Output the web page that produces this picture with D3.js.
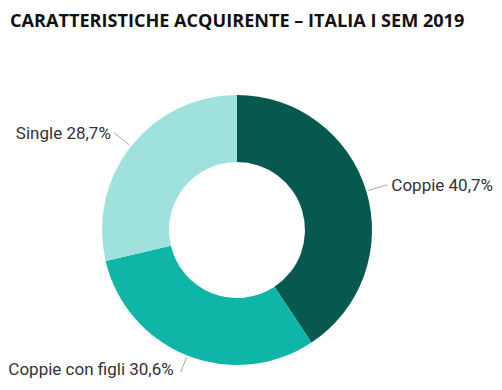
<!DOCTYPE html>
<html><head><meta charset="utf-8">
<script src="https://cdn.jsdelivr.net/npm/d3@7"></script>
<style>body{margin:0;background:#fff}svg{display:block}</style>
</head><body>
<svg id="c" width="502" height="390"></svg>
<script>
const title = "CARATTERISTICHE ACQUIRENTE – ITALIA I SEM 2019";
const categories = ["Coppie", "Coppie con figli", "Single"];
const values = [40.7, 30.6, 28.7];
const labels = ["Coppie 40,7%", "Coppie con figli 30,6%", "Single 28,7%"];
const colors = ["#07594f", "#0fb5a7", "#9fe1dc"];

const svg = d3.select("#c");
svg.append("text").attr("x", 10).attr("y", 27)
  .attr("font-family", "Open Sans").attr("font-weight", 700).attr("font-size", 18.1)
  .attr("fill", "#111").text(title);

const cx = 237, cy = 230, R = 135, r = 68;
const g = svg.append("g").attr("transform", `translate(${cx},${cy})`);
const data = categories.map((c, i) => ({c, v: values[i], label: labels[i], color: colors[i]}));
const pie = d3.pie().value(d => d.v).sort(null);
const arc = d3.arc().innerRadius(r).outerRadius(R);
const arcs = pie(data);
g.selectAll("path.s").data(arcs).join("path").attr("class", "s")
  .attr("d", arc).attr("fill", d => d.data.color);

const pt = (a, rad) => [rad * Math.sin(a), -rad * Math.cos(a)];
arcs.forEach(d => {
  const a = (d.startAngle + d.endAngle) / 2;
  const lower = Math.cos(a) < -0.5;
  const p1 = pt(a, R + 2), p2 = pt(a, R + (lower ? 18 : 22));
  const right = Math.sin(a) > 0;
  g.append("path").attr("d", d3.line()([p1, p2]))
    .attr("stroke", "#aaa").attr("stroke-width", 1).attr("fill", "none");
  g.append("text").attr("x", p2[0] + (right ? 4 : (lower ? -7 : -3))).attr("y", p2[1] - (lower ? 3 : 0))
    .attr("dy", "0.35em").attr("text-anchor", right ? "start" : "end")
    .attr("font-family", "Roboto").attr("font-size", 17).attr("fill", "#333")
    .text(d.data.label);
});
</script>
</body></html>
